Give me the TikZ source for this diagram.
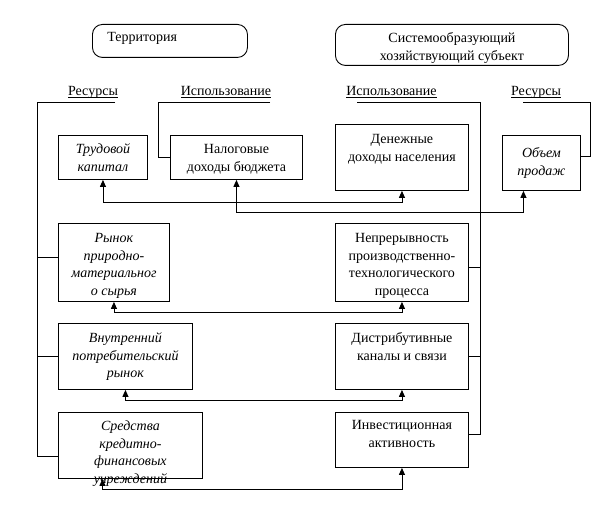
\documentclass[tikz,border=0pt]{standalone}
\usepackage{fontspec}
\setmainfont{Liberation Serif}
\usetikzlibrary{arrows.meta,calc}
\newcommand\myul[1]{\setbox0\hbox{#1}\rlap{\rule[-2.2pt]{\wd0}{0.7pt}}\box0}
\begin{document}
\begin{tikzpicture}[x=1pt,y=-1pt,
  every path/.style={line width=0.9pt},
  box/.style={draw,line width=0.9pt,inner sep=0pt,anchor=north west},
  rbox/.style={box,rounded corners=10pt},
  txt/.style={inner sep=0pt,align=center,anchor=north,font=\fontsize{14}{17.5}\selectfont},
  itxt/.style={txt,font=\fontsize{14}{17.5}\selectfont\itshape},
  lab/.style={inner sep=0pt,anchor=base,font=\fontsize{14}{17}\selectfont},
  dbl/.style={{Triangle[width=6pt,length=7pt]}-{Triangle[width=6pt,length=7pt]}}]
\useasboundingbox[fill=white] (0,0) rectangle (591,510);
% top rounded boxes
\node[rbox,minimum width=155pt,minimum height=33pt] (terr) at (92,24) {};
\node[lab,anchor=base west] (terr-t) at (107,42) {Территория};
\node[rbox,minimum width=233pt,minimum height=41pt] (sys) at (335,24) {};
\node[txt] (sys-t) at ([yshift=-6pt]sys.north) {\strut Системообразующий\\хозяйствующий субъект};
% labels
\node[lab] (resL-t) at (93,96) {\myul{Ресурсы}};
\node[lab] (useL-t) at (226,96) {\myul{Использование}};
\node[lab] (useR-t) at (391.5,96) {\myul{Использование}};
\node[lab] (resR-t) at (536,96) {\myul{Ресурсы}};
% boxes
\node[box,minimum width=89pt,minimum height=44pt] (trud) at (58,135) {};
\node[itxt] (trud-t) at ([yshift=-6pt]trud.north) {\strut Трудовой\\капитал};
\node[box,minimum width=132pt,minimum height=44pt] (nalog) at (170,135) {};
\node[txt] (nalog-t) at ([yshift=-6pt]nalog.north) {\strut Налоговые\\доходы бюджета};
\node[box,minimum width=133pt,minimum height=66pt] (den) at (335,124) {};
\node[txt] (den-t) at ([yshift=-7pt]den.north) {\strut Денежные\\доходы населения};
\node[box,minimum width=78pt,minimum height=55pt] (obem) at (502,135) {};
\node[itxt] (obem-t) at ([yshift=-10pt]obem.north) {\strut Объем\\продаж};
\node[box,minimum width=111pt,minimum height=78pt] (rynok) at (58,223) {};
\node[itxt] (rynok-t) at ([yshift=-7pt]rynok.north) {\strut Рынок\\природно-\\материальног\\о сырья};
\node[box,minimum width=133pt,minimum height=78pt] (nepr) at (335,223) {};
\node[txt] (nepr-t) at ([yshift=-7pt]nepr.north) {\strut Непрерывность\\производственно-\\технологического\\процесса};
\node[box,minimum width=134pt,minimum height=66pt] (vnutr) at (58,323) {};
\node[itxt] (vnutr-t) at ([yshift=-7pt]vnutr.north) {\strut Внутренний\\потребительский\\рынок};
\node[box,minimum width=133pt,minimum height=66pt] (distr) at (335,323) {};
\node[txt] (distr-t) at ([yshift=-7pt]distr.north) {\strut Дистрибутивные\\каналы и связи};
\node[box,minimum width=144pt,minimum height=66pt] (sred) at (58,412) {};
\node[itxt] (sred-t) at ([yshift=-6pt]sred.north) {\strut Средства\\кредитно-\\финансовых\\учреждений};
\node[box,minimum width=133pt,minimum height=55pt] (inv) at (335,412) {};
\node[txt] (inv-t) at ([yshift=-5pt]inv.north) {\strut Инвестиционная\\активность};
% bracket lines
\coordinate (resL) at (115,102);
\coordinate (resLc) at (37,102);
\coordinate (useL) at (270,102);
\coordinate (useLc) at (158,102);
\coordinate (useR) at (357,102);
\coordinate (useRc) at (480,102);
\coordinate (resR) at (523,102);
\coordinate (resRc) at (590,102);
\draw (resL) -- (resLc) |- ([yshift=-44pt]sred.north west);
\draw ([yshift=-34pt]rynok.north west) -- ++(-21,0);
\draw (vnutr.west) -- ++(-21,0);
\draw (useL) -- (useLc) |- (nalog.west);
\draw (useR) -- (useRc) |- ([yshift=-22pt]inv.north east);
\draw ([yshift=-44pt]nepr.north east) -- ++(12,0);
\draw (distr.east) -- ++(12,0);
\draw (resR) -- (resRc) |- ([yshift=-21pt]obem.north east);
% arrow connectors
\draw[dbl] (trud.south) -- ++(0,23) -| (den.south);
\draw[dbl] (nalog.south) -- ++(0,33) -| ([xshift=-18pt]obem.south);
\draw[dbl] (rynok.south) -- ++(0,11) -| (nepr.south);
\draw[dbl] (vnutr.south) -- ++(0,11) -| (distr.south);
\draw[dbl] ([xshift=-28pt]sred.south) -- ++(0,11) -| (inv.south);
\end{tikzpicture}
\end{document}
